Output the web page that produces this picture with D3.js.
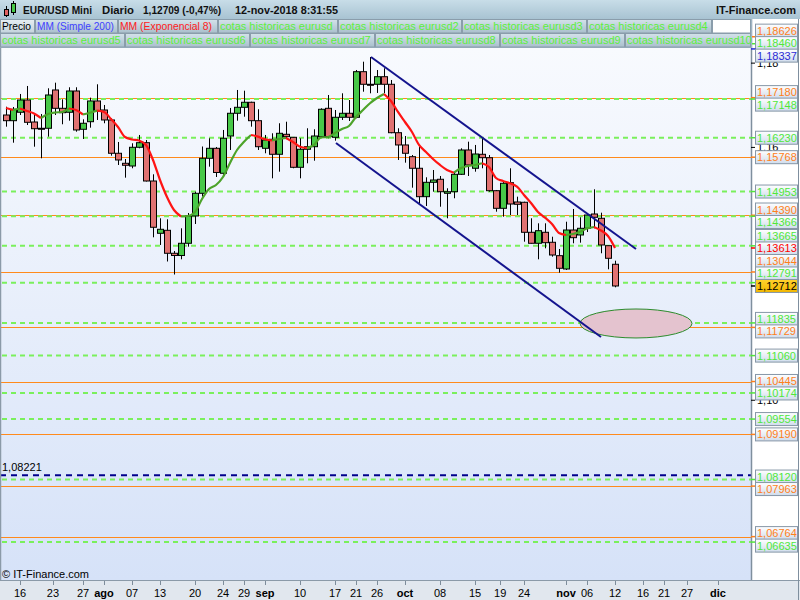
<!DOCTYPE html>
<html><head><meta charset="utf-8">
<script src="https://cdn.jsdelivr.net/npm/d3@7"></script>
<style>body{margin:0;background:#fff;}svg{display:block;font-family:"Liberation Sans",Arial,sans-serif;}</style>
</head><body><svg id="c" width="800" height="600"></svg>
<script>
// ---------- DATA (EUR/USD daily, 12-jul-2018 .. 12-nov-2018) ----------
const opens  = [1.16769,1.16634,1.16834,1.17125,1.16603,1.16454,1.16454,1.17363,1.16928,1.16834,1.17339,1.16430,1.16610,1.17102,1.16888,1.16651,1.15861,1.15623,1.15559,1.16003,1.16112,1.15203,1.13962,1.14033,1.13488,1.13435,1.13725,1.14373,1.14911,1.15742,1.15979,1.15386,1.16271,1.16810,1.16952,1.17071,1.16634,1.15979,1.16193,1.15837,1.16311,1.16240,1.15528,1.15956,1.16017,1.16255,1.16928,1.16240,1.16715,1.16810,1.16715,1.17797,1.17498,1.17498,1.17678,1.17498,1.16349,1.16058,1.15780,1.15505,1.14831,1.15172,1.15244,1.14911,1.14949,1.15362,1.15939,1.15505,1.15837,1.15756,1.14973,1.14555,1.15163,1.14705,1.14698,1.13986,1.13725,1.13986,1.13749,1.13431,1.13115,1.14040,1.13922,1.14081,1.14420,1.14318,1.13668,1.13227];
const highs  = [1.16966,1.16959,1.17268,1.17458,1.16810,1.16793,1.17403,1.17536,1.17142,1.17427,1.17427,1.16667,1.17180,1.17498,1.17007,1.16691,1.16129,1.15725,1.16098,1.16295,1.16176,1.15362,1.14318,1.14294,1.13542,1.14081,1.14444,1.14949,1.16022,1.16217,1.16010,1.16414,1.16936,1.17363,1.17346,1.17085,1.16905,1.16295,1.16335,1.16573,1.16610,1.16247,1.16217,1.16454,1.16430,1.16928,1.17244,1.16888,1.17284,1.17125,1.17837,1.18034,1.18146,1.17837,1.17878,1.17600,1.16454,1.16271,1.15820,1.16017,1.15291,1.15464,1.15322,1.15030,1.15424,1.15979,1.16136,1.16058,1.16217,1.15820,1.14990,1.15187,1.15505,1.14831,1.14712,1.14318,1.14199,1.14199,1.13881,1.13590,1.14237,1.14539,1.14342,1.14437,1.15006,1.14451,1.13668,1.13312];
const lows   = [1.16492,1.16112,1.16769,1.16532,1.16017,1.15742,1.16255,1.16769,1.16549,1.16634,1.16373,1.16200,1.16468,1.16651,1.16573,1.15804,1.15583,1.15282,1.15505,1.15979,1.15191,1.13867,1.13685,1.13293,1.12984,1.13345,1.13644,1.14183,1.14831,1.15543,1.15298,1.15346,1.15939,1.16634,1.16729,1.16492,1.15939,1.15861,1.15267,1.15424,1.16217,1.15505,1.15267,1.15623,1.15685,1.16240,1.16217,1.16160,1.16651,1.16627,1.16691,1.17322,1.17284,1.17292,1.17284,1.16335,1.15702,1.15638,1.15044,1.14674,1.14610,1.14949,1.14593,1.14318,1.14793,1.15346,1.15322,1.15424,1.15505,1.14949,1.14475,1.14356,1.14396,1.14396,1.13763,1.13720,1.13345,1.13606,1.13407,1.13027,1.13091,1.13725,1.13739,1.13993,1.14081,1.13488,1.13108,1.12681];
const closes = [1.16634,1.16905,1.17125,1.16596,1.16444,1.16450,1.17244,1.16928,1.16824,1.17339,1.16414,1.16573,1.17102,1.16872,1.16651,1.15861,1.15702,1.15576,1.16003,1.16112,1.15203,1.14105,1.14057,1.13488,1.13435,1.13725,1.14373,1.14911,1.15742,1.15979,1.15405,1.16217,1.16810,1.16952,1.17071,1.16634,1.16017,1.16176,1.15837,1.16335,1.16255,1.15528,1.15956,1.16017,1.16271,1.16905,1.16255,1.16715,1.16810,1.16715,1.17797,1.17498,1.17491,1.17678,1.17498,1.16349,1.16058,1.15861,1.15505,1.14831,1.15172,1.15227,1.14949,1.14949,1.15362,1.15939,1.15583,1.15844,1.15756,1.14973,1.14555,1.15149,1.14657,1.14650,1.13986,1.13725,1.14024,1.13739,1.13447,1.13132,1.14040,1.13858,1.14081,1.14396,1.14342,1.13685,1.13369,1.12712];
// MM (Exponencial 8)
const ema8   = [1.16936,1.16888,1.16924,1.16864,1.16805,1.16698,1.16793,1.16829,1.16841,1.16924,1.16888,1.16781,1.16824,1.16872,1.16841,1.16675,1.16485,1.16247,1.16188,1.16164,1.16058,1.15702,1.15227,1.14824,1.14515,1.14361,1.14373,1.14468,1.14776,1.15013,1.15108,1.15298,1.15630,1.15939,1.16136,1.16295,1.16255,1.16193,1.16164,1.16200,1.16224,1.16129,1.16017,1.15986,1.16058,1.16236,1.16247,1.16342,1.16437,1.16508,1.16722,1.16888,1.17047,1.17173,1.17268,1.17102,1.16841,1.16603,1.16366,1.16058,1.15891,1.15725,1.15583,1.15464,1.15400,1.15512,1.15559,1.15583,1.15623,1.15535,1.15274,1.15203,1.15149,1.15068,1.14871,1.14681,1.14468,1.14332,1.14183,1.13969,1.13922,1.13946,1.14000,1.14076,1.14112,1.14029,1.13898,1.13613];
// time axis (position in trading-day index)
const tickIdx    = [2,6.7,11,14,18,22,27,31,34,37,42,47,50,53,57,62,67,70.6,74,80,83,87,91,94,97.3,101.7];
const tickLabels = ["16","23","27","ago","07","13","20","24","29","sep","10","17","21","26","oct","08","15","19","24","nov","06","12","16","21","27","dic"];
const monthLabels = ["ago","sep","oct","nov","dic"];
// price axis (only the ticks that are not fully covered by level labels)
const priceTicks = [1.10,1.16,1.18];
// historic levels ("cotas historicas")
const greenLevels  = [1.18460,1.17148,1.16230,1.14953,1.14366,1.13665,1.12791,1.11835,1.11060,1.10174,1.09554,1.08120,1.06635];
const orangeLevels = [1.18626,1.17180,1.15768,1.14390,1.13044,1.11729,1.10445,1.09190,1.07963,1.06764];
const blueLevels   = [1.18337];
const dashedLevel  = 1.08221;
// channel trend lines [index, price]
const upperTrend = [[52.14,1.18146],[90,1.13590]];
const lowerTrend = [[47.14,1.16105],[85,1.11501]];
// target zone ellipse: center index, center price, half-width (days), half-height (price)
const zone = {idx:90, price:1.11822, rIdx:8, rPrice:0.00344};
const headerItems = ["EUR/USD Mini","Diario","1,12709 (-0,47%)","12-nov-2018 8:31:55"];
const legendRow1 = [["Precio","#000000"],["MM (Simple 200)","#3f3fff"],["MM (Exponencial 8)","#ff2020"],["cotas historicas eurusd","#5cf03c"],["cotas historicas eurusd2","#5cf03c"],["cotas historicas eurusd3","#5cf03c"],["cotas historicas eurusd4","#5cf03c"]];
const legendRow2 = [["cotas historicas eurusd5","#5cf03c"],["cotas historicas eurusd6","#5cf03c"],["cotas historicas eurusd7","#5cf03c"],["cotas historicas eurusd8","#5cf03c"],["cotas historicas eurusd9","#5cf03c"],["cotas historicas eurusd10","#5cf03c"]];

// ---------- LAYOUT ----------
const svg = d3.select("#c");
const PL=0, PT=48, PR=751, PB=580;
const x = d3.scaleLinear().domain([0,87]).range([6,615]);
const y = d3.scaleLinear().domain([1.05735,1.18359]).range([PB,PT]);
const fmt = v => d3.format(".5f")(v).replace(".",",");

const defs = svg.append("defs");
function lg(id,stops){const g=defs.append("linearGradient").attr("id",id).attr("x1",0).attr("y1",0).attr("x2",0).attr("y2",1);stops.forEach(([o,c])=>g.append("stop").attr("offset",o).attr("stop-color",c));}
lg("bgPlot",[[0,"#f8fafe"],[1,"#d6e2f8"]]);
lg("bgTop",[[0,"#c8dde8"],[1,"#a8c3d2"]]);
lg("bgCell",[[0,"#d4e2ea"],[1,"#a9bfcc"]]);
lg("bgCell0",[[0,"#e6eef2"],[1,"#c3d3dc"]]);
lg("bgLbl",[[0,"#ffffff"],[1,"#d0dcec"]]);
lg("bgGold",[[0,"#ffd22e"],[1,"#f2b600"]]);
defs.append("clipPath").attr("id","clip").append("rect").attr("x",PL).attr("y",PT).attr("width",PR-PL).attr("height",PB-PT);

// backgrounds
svg.append("rect").attr("x",0).attr("y",0).attr("width",800).attr("height",600).attr("fill","#ffffff");
svg.append("rect").attr("x",PL).attr("y",PT).attr("width",PR-PL).attr("height",PB-PT).attr("fill","url(#bgPlot)");
svg.append("rect").attr("x",0).attr("y",PB).attr("width",800).attr("height",600-PB).attr("fill","#e1e7ee");

const plot = svg.append("g").attr("clip-path","url(#clip)");

// level lines
plot.selectAll(".orl").data(orangeLevels).join("line")
  .attr("x1",PL).attr("x2",PR).attr("y1",d=>Math.round(y(d))+0.5).attr("y2",d=>Math.round(y(d))+0.5)
  .attr("stroke","#ff8a1c").attr("stroke-width",1);
plot.selectAll(".grl").data(greenLevels).join("line")
  .attr("x1",PL+2).attr("x2",PR).attr("y1",d=>y(d)).attr("y2",d=>y(d))
  .attr("stroke","#7af05c").attr("stroke-width",2).attr("stroke-dasharray","5,4");
plot.append("line").attr("x1",PL).attr("x2",PR).attr("y1",y(dashedLevel)).attr("y2",y(dashedLevel))
  .attr("stroke","#00008c").attr("stroke-width",2).attr("stroke-dasharray","6,5");
plot.append("text").attr("x",2).attr("y",y(dashedLevel)-4).attr("font-size",11).attr("fill","#000").text(fmt(dashedLevel));

// candles
const n = closes.length;
const idx = d3.range(n);
const cg = plot.append("g");
cg.selectAll(".wick").data(idx).join("line")
  .attr("x1",i=>Math.round(x(i))+0.5).attr("x2",i=>Math.round(x(i))+0.5)
  .attr("y1",i=>y(highs[i])).attr("y2",i=>y(lows[i])).attr("stroke","#000").attr("stroke-width",1);
cg.selectAll(".body").data(idx).join("rect")
  .attr("x",i=>Math.round(x(i))-2.5).attr("width",6)
  .attr("y",i=>y(Math.max(opens[i],closes[i])))
  .attr("height",i=>Math.max(1,Math.abs(y(opens[i])-y(closes[i]))))
  .attr("fill",i=>closes[i]>=opens[i]?"#48c848":"#e07272")
  .attr("stroke","#000").attr("stroke-width",1);

// EMA 8 coloured by direction
const runs=[]; let cur=null;
for(let i=1;i<n;i++){const col=ema8[i]>=ema8[i-1]?"#4da32a":"#ff1414";
  if(!cur||cur.col!==col){cur={col,pts:[i-1]};runs.push(cur);} cur.pts.push(i);}
const eline = d3.line().x(i=>x(i)).y(i=>y(ema8[i])).curve(d3.curveMonotoneX);
plot.selectAll(".ema").data(runs).join("path").attr("d",r=>eline(r.pts))
  .attr("fill","none").attr("stroke",r=>r.col).attr("stroke-width",2.2).attr("stroke-linejoin","round");

// target zone
plot.append("ellipse").attr("cx",x(zone.idx)).attr("cy",y(zone.price))
  .attr("rx",x(zone.idx+zone.rIdx)-x(zone.idx)).attr("ry",y(zone.price-zone.rPrice)-y(zone.price))
  .attr("fill","#e4c3cf").attr("stroke","#2c8c2c").attr("stroke-width",1);

// channel
[upperTrend,lowerTrend].forEach(t=>plot.append("line")
  .attr("x1",x(t[0][0])).attr("y1",y(t[0][1])).attr("x2",x(t[1][0])).attr("y2",y(t[1][1]))
  .attr("stroke","#14148e").attr("stroke-width",2));

// copyright
svg.append("text").attr("x",2).attr("y",578).attr("font-size",11).attr("fill","#000").text("\u00a9 IT-Finance.com");

// plot borders
svg.append("line").attr("x1",0.5).attr("x2",0.5).attr("y1",PT).attr("y2",PB).attr("stroke","#8b9aa8").attr("stroke-width",1.5);
svg.append("line").attr("x1",0).attr("x2",800).attr("y1",PB+0.5).attr("y2",PB+0.5).attr("stroke","#8b9aa8");

// time axis
svg.selectAll(".xt").data(tickIdx).join("line")
  .attr("x1",d=>Math.round(x(d))+0.5).attr("x2",d=>Math.round(x(d))+0.5).attr("y1",PB+1).attr("y2",PB+5).attr("stroke","#7d8c9a");
svg.selectAll(".xl").data(tickIdx).join("text")
  .attr("x",d=>x(d)).attr("y",597).attr("text-anchor","middle").attr("font-size",11)
  .attr("font-weight",(d,i)=>monthLabels.includes(tickLabels[i])?"bold":"normal")
  .attr("fill","#000").text((d,i)=>tickLabels[i]);

// right price panel
svg.append("rect").attr("x",PR).attr("y",19).attr("width",800-PR).attr("height",PB-19).attr("fill","#ffffff");
svg.append("line").attr("x1",PR+0.5).attr("x2",PR+0.5).attr("y1",19).attr("y2",PB).attr("stroke","#7f8f9e").attr("stroke-width",1.5);
svg.append("line").attr("x1",798.5).attr("x2",798.5).attr("y1",19).attr("y2",600).attr("stroke","#7f8f9e").attr("stroke-width",1);
svg.selectAll(".yt").data(priceTicks).join("line").attr("x1",PR).attr("x2",PR+4)
  .attr("y1",d=>y(d)).attr("y2",d=>y(d)).attr("stroke","#000");
svg.selectAll(".yl").data(priceTicks).join("text").attr("x",757).attr("y",d=>y(d)+4)
  .attr("font-size",11).attr("fill","#000").text(d=>d3.format(".2f")(d).replace(".",","));

// level labels with simple collision relaxation
let labs = [];
greenLevels.forEach(v=>labs.push({v,col:"#4fe83a",fill:"url(#bgLbl)"}));
orangeLevels.forEach(v=>labs.push({v,col:"#ff7f1a",fill:"url(#bgLbl)"}));
blueLevels.forEach(v=>labs.push({v,col:"#2b2bd6",fill:"url(#bgLbl)"}));
labs.push({v:ema8[n-1],col:"#ff0000",fill:"url(#bgLbl)"});
labs.push({v:closes[n-1],col:"#000000",fill:"url(#bgGold)",fixed:true});
labs.forEach(l=>{l.y0=y(l.v);l.y=l.y0;});
labs.sort((a,b)=>a.y0-b.y0);
const gap=12.5;
for(let it=0;it<3000;it++){let moved=false;
  for(let i=0;i<labs.length-1;i++){const a=labs[i],b=labs[i+1];const ov=gap-(b.y-a.y);
    if(ov>0.01){moved=true; if(a.fixed) b.y+=ov; else if(b.fixed) a.y-=ov; else {a.y-=ov/2;b.y+=ov/2;}}}
  if(!moved)break;}
const drawOrder = labs.filter(l=>!l.fixed).concat(labs.filter(l=>l.fixed));
const lg2 = svg.append("g");
drawOrder.forEach(l=>{
  lg2.append("line").attr("x1",PR).attr("x2",756).attr("y1",l.y0).attr("y2",l.y0).attr("stroke",l.col==="#000000"?"#000":l.col).attr("stroke-width",1.5);
  lg2.append("rect").attr("x",755.5).attr("y",l.y-6.5).attr("width",42).attr("height",13)
    .attr("fill",l.fill).attr("stroke","#8797a7").attr("stroke-width",1);
  lg2.append("text").attr("x",757).attr("y",l.y+4).attr("font-size",11).attr("fill",l.col).text(fmt(l.v));
});

// ---------- HEADER ----------
const hd = svg.append("g");
hd.append("rect").attr("x",0).attr("y",0).attr("width",800).attr("height",19).attr("fill","url(#bgTop)");
hd.append("rect").attr("x",0).attr("y",19).attr("width",PR+1).attr("height",PT-19).attr("fill","#9fb5c3");
// icon
hd.append("line").attr("x1",6.5).attr("x2",6.5).attr("y1",6).attr("y2",17).attr("stroke","#000");
hd.append("rect").attr("x",4.5).attr("y",9.5).attr("width",4).attr("height",6).attr("fill","#e06060").attr("stroke","#000");
hd.append("line").attr("x1",13.5).attr("x2",13.5).attr("y1",1).attr("y2",15).attr("stroke","#000");
hd.append("rect").attr("x",11.5).attr("y",3.5).attr("width",4).attr("height",9).attr("fill","#48c848").attr("stroke","#000");
const hPos=[23,102,143,235], hW=[69,32,78,103];
headerItems.forEach((t,i)=>
  hd.append("text").attr("x",hPos[i]).attr("y",14).attr("font-size",11).attr("font-weight","bold").attr("fill","#111")
    .attr("textLength",hW[i]).attr("lengthAdjust","spacingAndGlyphs").text(t));
hd.append("text").attr("x",796).attr("y",14).attr("text-anchor","end").attr("font-size",11).attr("font-weight","bold").attr("fill","#111").text("IT-Finance.com");
// legend cells
const row1W=[35,83,100,120,124,125,125];
const row1TL=[29,77,92,null,null,null,null];
let cx=0;
legendRow1.forEach(([t,c],i)=>{
  hd.append("rect").attr("x",cx+0.5).attr("y",19.5).attr("width",row1W[i]-1).attr("height",13.5)
    .attr("fill",i===0?"url(#bgCell0)":"url(#bgCell)").attr("stroke","#8a9dab");
  const tx=hd.append("text").attr("x",cx+2).attr("y",30).attr("font-size",11).attr("fill",c).text(t);
  if(row1TL[i]) tx.attr("textLength",row1TL[i]).attr("lengthAdjust","spacingAndGlyphs");
  cx+=row1W[i];});
hd.append("rect").attr("x",cx+0.5).attr("y",19.5).attr("width",PR-cx-1).attr("height",13.5).attr("fill","#ffffff").attr("stroke","#8a9dab");
cx=0;
legendRow2.forEach(([t,c],i)=>{
  const w = i<5?125:PR-cx;
  hd.append("rect").attr("x",cx+0.5).attr("y",33.5).attr("width",w-1).attr("height",13.5).attr("fill","url(#bgCell)").attr("stroke","#8a9dab");
  hd.append("text").attr("x",cx+2).attr("y",44).attr("font-size",11).attr("fill",c).text(t);
  cx+=w;});
</script></body></html>
